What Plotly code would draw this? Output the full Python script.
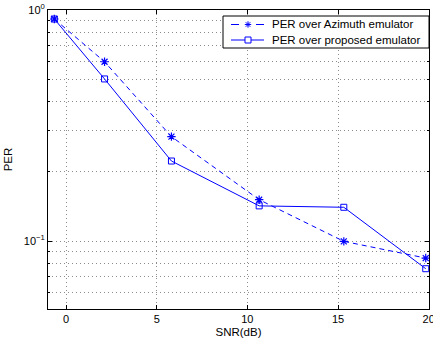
import plotly.graph_objects as go
import numpy as np

snr_db = [-0.65, 2.12, 5.81, 10.65, 15.32, 19.84]
per_azimuth = [0.914, 0.597, 0.283, 0.151, 0.0997, 0.0844]
per_proposed = [0.914, 0.503, 0.222, 0.142, 0.140, 0.0759]
series_names = ["PER over Azimuth emulator", "PER over proposed emulator"]

x_ticks = [0, 5, 10, 15, 20]
y_major = [0.1, 1.0]
y_major_text = ["10<sup>−1</sup>", "10<sup>0</sup>"]
y_minor = [0.06, 0.07, 0.08, 0.09, 0.2, 0.3, 0.4, 0.5, 0.6, 0.7, 0.8, 0.9]

blue = "rgb(0,0,255)"
font = "Liberation Sans, Arial, Helvetica, sans-serif"

W, H = 433, 346
ML, MR, MT, MB = 48, 4, 10, 37
PW, PH = W - ML - MR, H - MT - MB


def px(xp):
    return (xp - ML) / PW


def py(yp):
    return (H - MB - yp) / PH


fig = go.Figure()
fig.add_trace(go.Scatter(
    x=snr_db, y=per_azimuth, mode="lines+markers", name=series_names[0],
    line=dict(color=blue, width=1, dash="5px,4px"),
    marker=dict(symbol="asterisk-open", size=7, color=blue, line=dict(color=blue, width=1.2)),
    showlegend=False,
))
fig.add_trace(go.Scatter(
    x=snr_db, y=per_proposed, mode="lines+markers", name=series_names[1],
    line=dict(color=blue, width=1),
    marker=dict(symbol="square-open", size=6, color=blue, line=dict(color=blue, width=1)),
    showlegend=False,
))

grid = dict(showgrid=True, gridcolor="rgb(140,140,140)", gridwidth=1, griddash="1px,3px")
axis_common = dict(
    showline=True, linecolor="black", linewidth=1, mirror="allticks",
    ticks="inside", ticklen=4, tickcolor="black",
    zeroline=False, automargin=False, ticklabeloverflow="allow",
    tickfont=dict(family=font, size=11, color="black"),
    **grid,
)

fig.update_xaxes(
    range=[-1, 20.02], tickvals=x_ticks, ticktext=[str(v) for v in x_ticks],
    title=dict(text="SNR(dB)", font=dict(family=font, size=11.5, color="black"), standoff=3),
    **axis_common,
)
fig.update_yaxes(
    type="log", range=[np.log10(0.0508), 0],
    tickvals=y_major, ticktext=y_major_text,
    title=dict(text="PER", font=dict(family=font, size=11.5, color="black"), standoff=8),
    minor=dict(tickvals=y_minor, ticks="inside", ticklen=2, tickcolor="black", **grid),
    **axis_common,
)

# Legend drawn manually (MATLAB-style compact box)
bx0, bx1, by0, by1 = 223, 429, 16, 48
row_y = [24.5, 40]
lx0, lx1, mx = 231, 264, 248


def hline(x0, x1, y, width=1):
    return dict(type="line", xref="paper", yref="paper",
                x0=px(x0), x1=px(x1), y0=py(y), y1=py(y),
                line=dict(color=blue, width=width), layer="above")


shapes = [dict(type="rect", xref="paper", yref="paper",
               x0=px(bx0), x1=px(bx1), y0=py(by1), y1=py(by0),
               fillcolor="white", line=dict(color="black", width=1), layer="above")]
# dashed sample: dash - marker - dash
shapes.append(hline(lx0, lx0 + 8, row_y[0]))
shapes.append(hline(lx1 - 8, lx1, row_y[0]))
# solid sample
shapes.append(hline(lx0, lx1, row_y[1]))
# asterisk marker
r = 3.2
ay = row_y[0]
for dx, dy in [(r, 0), (0, r), (r * 0.7, r * 0.7), (r * 0.7, -r * 0.7)]:
    shapes.append(dict(type="line", xref="paper", yref="paper",
                       x0=px(mx - dx), x1=px(mx + dx), y0=py(ay - dy), y1=py(ay + dy),
                       line=dict(color=blue, width=1), layer="above"))
# square marker
s = 3
shapes.append(dict(type="rect", xref="paper", yref="paper",
                   x0=px(mx - s), x1=px(mx + s), y0=py(row_y[1] + s), y1=py(row_y[1] - s),
                   fillcolor="white", line=dict(color=blue, width=1), layer="above"))

annotations = [dict(xref="paper", yref="paper", x=px(270), y=py(yy), text=name,
                    xanchor="left", yanchor="middle", showarrow=False,
                    font=dict(family=font, size=11.5, color="black"))
               for yy, name in zip(row_y, series_names)]

fig.update_layout(
    width=W, height=H,
    margin=dict(l=ML, r=MR, t=MT, b=MB, autoexpand=False),
    paper_bgcolor="white", plot_bgcolor="white",
    font=dict(family=font, size=11, color="black"),
    shapes=shapes, annotations=annotations,
    showlegend=False,
)

fig.write_html("out.html")
